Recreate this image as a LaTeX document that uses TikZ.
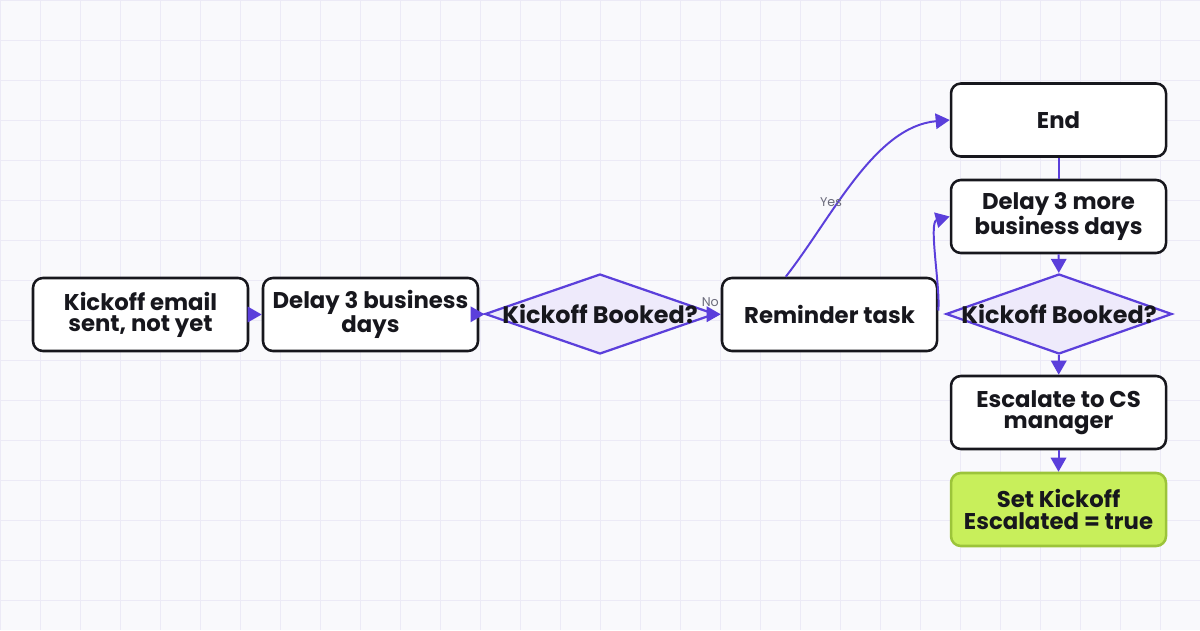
\documentclass[tikz,border=0pt]{standalone}
\usepackage{fontspec}
\setmainfont{Poppins}
\usetikzlibrary{shapes,arrows.meta}

\definecolor{paper}{HTML}{F9F9FC}
\definecolor{gridcol}{HTML}{ECEAF6}
\definecolor{ink}{HTML}{17171D}
\definecolor{flowcol}{HTML}{5B3FDB}
\definecolor{lilac}{HTML}{EEEAFB}
\definecolor{lime}{HTML}{C8EF5B}
\definecolor{limeedge}{HTML}{9CC43A}
\definecolor{notecol}{HTML}{6B6B7B}

\begin{document}
\begin{tikzpicture}[auto, thick, >={Triangle[length=10pt,width=11pt]},
  box/.style={draw=ink, line width=1.8pt, rounded corners=7pt, fill=white,
    minimum width=5.375cm, minimum height=1.825cm, inner sep=0pt,
    align=center, text=ink, font=\fontsize{16.2}{15}\selectfont\bfseries},
  decision/.style={diamond, draw=flowcol, fill=lilac, line width=1.6pt,
    minimum width=5.75cm, minimum height=2cm, inner sep=0pt,
    text=ink, font=\fontsize{17}{15}\selectfont\bfseries},
  flow/.style={draw=flowcol, line width=1.4pt},
  note/.style={text=notecol, font=\fontsize{9}{10}\selectfont, inner sep=1pt}]

\useasboundingbox (0,0) rectangle (30,15.75);
\fill[paper] (0,0) rectangle (30,15.75);
\draw[gridcol, line width=0.6pt, shift={(0,0.75)}] (0,-0.75) grid (30,15);

				% main row
				\node[box] (kick) at (3.5125,7.8875) {Kickoff email\\sent, not yet};
				\node[box] (wait) at (9.2625,7.8875) {Delay 3 business\\days};
				\node[decision] (booked) at (15,7.9) {\makebox[0pt]{Kickoff Booked?}};
				\node[box] (remind) at (20.7375,7.8875) {Reminder task};
				% right column
				\node[box] (done) at (26.4625,12.75) {End};
				\node[box] (more) at (26.4625,10.3375) {Delay 3 more\\business days};
				\node[decision, minimum width=5.65cm] (rebooked) at (26.475,7.9) {\makebox[0pt]{Kickoff Booked?}};
				\node[box] (esc) at (26.4625,5.4375) {Escalate to CS\\manager};
				\node[box, fill=lime, draw=limeedge] (flag) at (26.4625,3.0125) {Set Kickoff\\Escalated = true};

				\draw[flow,->] (kick) -- (wait);
				\draw[flow,->] (wait) -- (booked);
				\draw[flow,->] (booked) -- (remind);
				\node[note, anchor=south east, yshift=0.15cm] (nolabel) at (remind.west) {No};
				\draw[flow,->] ([xshift=1.625cm]remind.north west) to[out=52,in=185,looseness=0.85]
				  node[note, pos=0.38, swap, xshift=-0.2cm, anchor=center] {Yes} (done.west);
				\draw[flow,->] ([yshift=0.1cm]remind.east) to[out=84,in=195,looseness=0.6] (more.west);
				\draw[flow] (done) -- (more);
				\draw[flow,->] (more) -- (rebooked);
				\draw[flow,->] (rebooked) -- (esc);
				\draw[flow,->] (esc) -- (flag);
\end{tikzpicture}
\end{document}
